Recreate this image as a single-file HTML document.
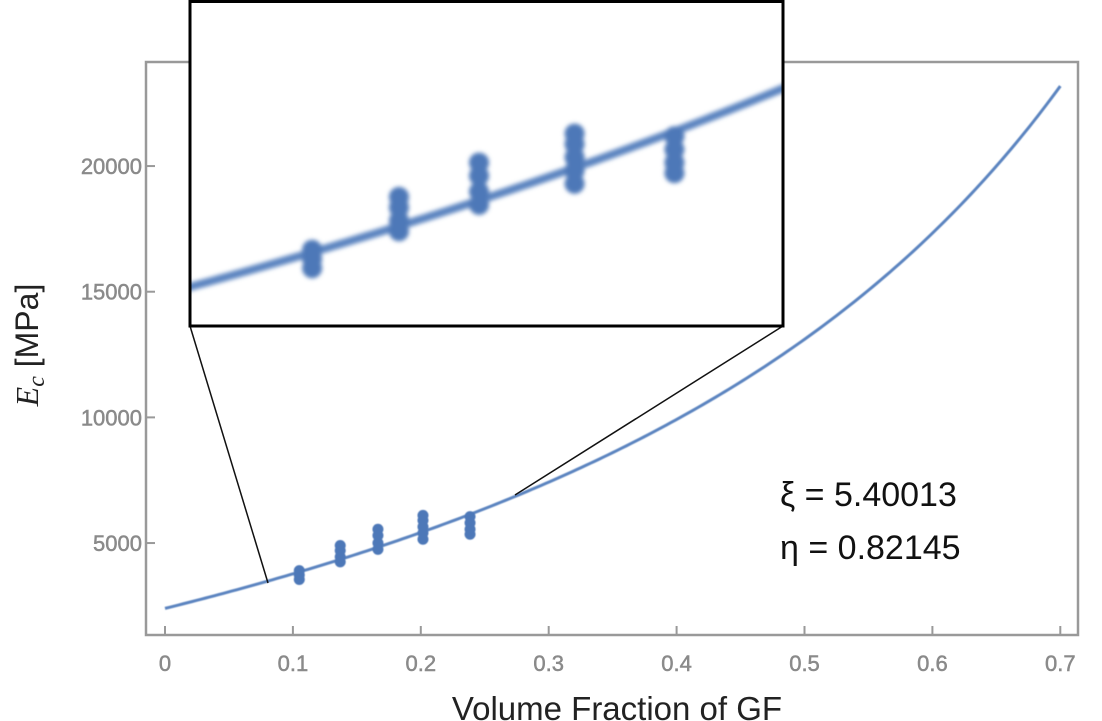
<!DOCTYPE html>
<html><head><meta charset="utf-8"><style>
body{margin:0;background:#fff;}
svg{display:block;font-family:"Liberation Sans",sans-serif;}
</style></head><body>
<svg id="chart" width="1102" height="721" viewBox="0 0 1102 721">
<defs>
<filter id="blur" x="-5%" y="-5%" width="110%" height="110%"><feGaussianBlur stdDeviation="2.2"/></filter>
<filter id="soft" x="-5%" y="-5%" width="110%" height="110%"><feGaussianBlur stdDeviation="0.6"/></filter>
<clipPath id="insetClip"><rect x="190" y="0" width="593" height="326"/></clipPath>
<clipPath id="mainClip"><rect x="147" y="62" width="931" height="573"/></clipPath>
</defs>
<rect x="146" y="62" width="932" height="573" fill="none" stroke="#999" stroke-width="2.5"/>
<g id="xticks"></g><g id="yticks"></g>
<g id="main" clip-path="url(#mainClip)" filter="url(#soft)"></g>
<line x1="190" y1="326" x2="268" y2="583" stroke="#111" stroke-width="1.5"/>
<line x1="783" y1="326" x2="515" y2="495" stroke="#111" stroke-width="1.5"/>
<rect x="190" y="0" width="593" height="326" fill="#fff"/>
<g id="inset" clip-path="url(#insetClip)" filter="url(#blur)"></g>
<rect x="190" y="1.5" width="593" height="324.5" fill="none" stroke="#000" stroke-width="3"/>
<text x="780" y="506" font-size="34" fill="#111">ξ = 5.40013</text>
<text x="780" y="559" font-size="34" fill="#111">η = 0.82145</text>
<text x="617" y="720" font-size="33" text-anchor="middle" fill="#222">Volume Fraction of GF</text>
<text transform="translate(38,345) rotate(-90)" font-size="32" text-anchor="middle" fill="#222"><tspan font-family="Liberation Serif" font-style="italic">E<tspan font-size="24" dy="6">c</tspan></tspan><tspan dy="-6">  [MPa]</tspan></text>
</svg>
<script>
const xTicks=[0,0.1,0.2,0.3,0.4,0.5,0.6,0.7];
const xTickLabels=["0","0.1","0.2","0.3","0.4","0.5","0.6","0.7"];
const yTicks=[5000,10000,15000,20000];
const yTickLabels=["5000","10000","15000","20000"];
const fitParams=[5.40013,0.82145]; // xi, eta
const matrixModulus=[2400];
const pointX=[0.105,0.105,0.105,0.137,0.137,0.137,0.137,0.1665,0.1665,0.1665,0.1665,0.2017,0.2017,0.2017,0.2017,0.2017,0.2385,0.2385,0.2385,0.2385];
const pointY=[3550,3730,3900,4250,4450,4700,4900,4750,5000,5300,5550,5150,5400,5650,5900,6100,5350,5550,5800,6050];
const ns="http://www.w3.org/2000/svg";
const X=v=>165+v*1279;
const Y=v=>668.7-v*0.025132;
const IX=v=>190+(v-0.06)*2714;
const IY=v=>283-(v-3270)*0.0528;
function fit(v){const xi=fitParams[0],eta=fitParams[1];return matrixModulus[0]*(1+xi*eta*v)/(1-eta*v);}
function mk(tag,attrs,parent){const e=document.createElementNS(ns,tag);for(const k in attrs)e.setAttribute(k,attrs[k]);parent.appendChild(e);return e;}
const xg=document.getElementById('xticks'),yg=document.getElementById('yticks');
xTicks.forEach((t,i)=>{
 const l=mk('line',{x1:X(t),x2:X(t),y1:626,y2:635,stroke:'#999','stroke-width':2},xg);
 
 
 const tx=mk('text',{x:X(t),y:671,'font-size':22,fill:'#8a8a8a','text-anchor':'middle',stroke:'#8a8a8a','stroke-width':0.5},xg);
 tx.textContent=xTickLabels[i];
 
 
});
yTicks.forEach((t,i)=>{
 const l=mk('line',{x1:146,x2:155,y1:Y(t),y2:Y(t),stroke:'#999','stroke-width':2},yg);
 
 
 const tx=mk('text',{x:142,y:Y(t)+8,'font-size':22,fill:'#8a8a8a','text-anchor':'end',stroke:'#8a8a8a','stroke-width':0.5},yg);
 tx.textContent=yTickLabels[i];
 
 
});
function drawSeries(g,sx,sy,x0,x1,lw,r,pre){
 let d='';for(let k=0;k<=200;k++){const v=x0+(x1-x0)*k/200;d+=(k?'L':'M')+sx(v).toFixed(2)+','+sy(fit(v)).toFixed(2);}
 const p=mk('path',{d:d,fill:'none',stroke:'#5b84c0','stroke-width':lw},g);
 
 
 pointX.forEach((v,i)=>{
  const c=mk('circle',{cx:sx(v),cy:sy(pointY[i]),r:r,fill:'#4d78b8'},g);
  
  
 });
}
drawSeries(document.getElementById('main'),X,Y,0,0.7,3,5.5,'');
drawSeries(document.getElementById('inset'),IX,IY,0.05,0.29,8,10,'inset-');
</script>
</body></html>
